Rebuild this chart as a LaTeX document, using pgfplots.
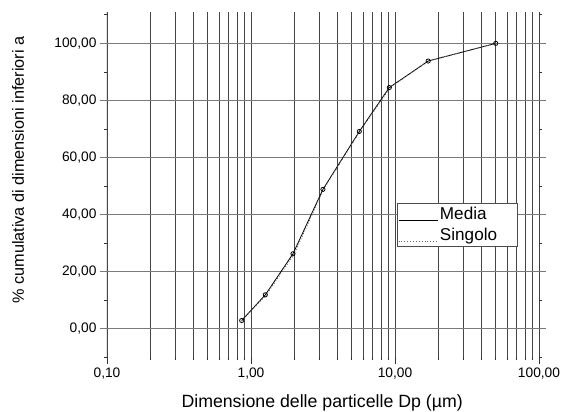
\documentclass[border=0pt]{standalone}
\usepackage{fontspec}
\setmainfont{Liberation Sans}
\usepackage{pgfplots}
\pgfplotsset{compat=1.18}
\definecolor{gridh}{HTML}{7A7A7A}
\definecolor{gridv}{HTML}{454545}

\begin{document}
\begin{tikzpicture}
\begin{axis}[
  at={(107bp,55bp)}, anchor=south west,
  scale only axis, width=432bp, height=345bp,
  xmode=log, xmin=0.1, xmax=100, ymin=-10, ymax=111,
  xtick={0.1,1,10,100}, xticklabels={{0,10},{1,00},{10,00},{100,00}},
  ytick={0,20,40,60,80,100},
  yticklabels={{0,00},{20,00},{40,00},{60,00},{80,00},{100,00}},
  minor ytick={-10,10,30,50,70,90,110},
  xtick pos=left, ytick pos=both, yticklabel pos=left,
  tick align=outside, major tick length=7bp, minor tick length=3bp,
  axis line style={draw=none},
  xmajorgrids, xminorgrids, ymajorgrids,
  x grid style={gridv, line width=0.7bp},
  y grid style={gridh, line width=1.2bp},
  every major y tick/.append style={gridh, line width=1.2bp},
  every major x tick/.append style={black!80, line width=0.8bp},
  every minor tick/.append style={black!80, line width=0.7bp},
  tick label style={font=\fontsize{13.8}{15}\selectfont},
  xlabel={Dimensione delle particelle Dp (µm)},
  ylabel={\% cumulativa di dimensioni inferiori a},
  xlabel style={font=\fontsize{17.8}{20}\selectfont,
    at={(axis description cs:0.498,-0.1464)}, anchor=base},
  ylabel style={font=\fontsize{16.3}{18}\selectfont,
    at={(axis description cs:-0.206,0.542)}, anchor=center},
  legend image code/.code={\draw[#1] (0bp,-6bp) -- (39bp,-6bp);},
  legend cell align=left,
  legend style={at={(rel axis cs:0.671,0.446)}, anchor=north west,
    draw=black!70, fill=white, font=\fontsize{17.2}{19}\selectfont,
    inner xsep=1bp, inner ysep=3bp, row sep=5bp,
    nodes={inner xsep=2bp, inner ysep=1bp, text width=74bp}},
]
\draw[black!85, line width=1bp] (rel axis cs:0,1) -- (rel axis cs:0,0) -- (rel axis cs:1,0) -- (rel axis cs:1,1);
\addplot[black, line width=0.8bp, mark=o, mark size=2.1bp,
  mark options={line width=0.8bp, fill=white}] coordinates {
  (0.862,2.8) (1.257,11.8) (1.957,26.2) (3.16,48.8)
  (5.65,69.1) (9.13,84.5) (17.0,93.8) (50.1,100)};
\addlegendentry{Media}
\addplot[black!60, line width=0.9bp, dotted] coordinates {
  (0.862,2.8) (1.27,11.6) (1.99,26.0) (3.2,48.9)
  (5.75,69.4) (9.3,84.6) (17.2,93.9) (50.1,100)};
\addlegendentry{Singolo}
\end{axis}
\pgfresetboundingbox
\path (0,0) rectangle (563bp,412bp);
\end{tikzpicture}
\end{document}
